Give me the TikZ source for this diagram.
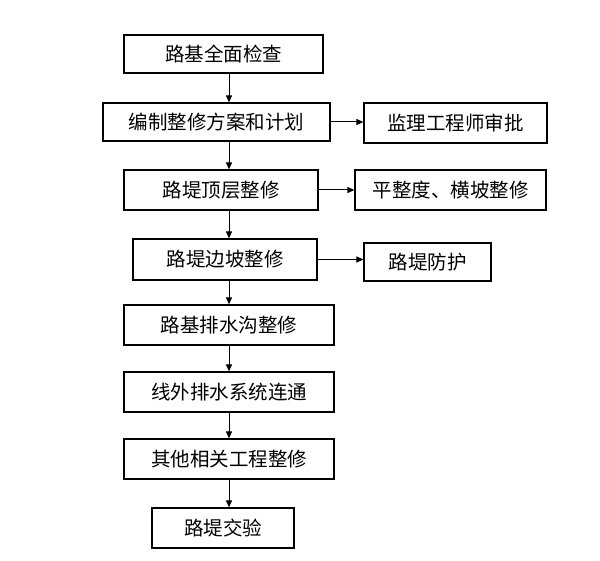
\documentclass[tikz,border=0pt]{standalone}
\usepackage{fontspec}
\setmainfont{Noto Sans CJK SC}
\usetikzlibrary{arrows.meta}
\begin{document}
\begin{tikzpicture}[x=1pt,y=-1pt,
  box/.style={draw,line width=1.2pt,inner sep=0pt,font=\fontsize{19.5}{21}\selectfont},
  arr/.style={line width=1pt,-{Triangle[length=7pt,width=6pt]}}]
\useasboundingbox (0,0) rectangle (600,561);
\newcommand{\bx}[6]{\node[box,minimum width=#4-#2,minimum height=#5-#3] (#1) at ({(#2+#4)/2},{(#3+#5)/2}) {#6};}
\bx{a}{124}{35}{323}{73}{路基全面检查}
\bx{b}{103}{103}{330}{141}{编制整修方案和计划}
\bx{br}{364}{103}{547}{143}{监理工程师审批}
\bx{c}{124}{170}{318}{210}{路堤顶层整修}
\bx{cr}{355}{170}{546}{210}{平整度、横坡整修}
\bx{d}{133}{239}{317}{280}{路堤边坡整修}
\bx{dr}{364}{243}{491}{281}{路堤防护}
\bx{e}{124}{305}{334}{345}{路基排水沟整修}
\bx{f}{124}{372}{334}{412}{线外排水系统连通}
\bx{g}{124}{439}{334}{479}{其他相关工程整修}
\bx{h}{152}{508}{294}{548}{路堤交验}
\foreach \p/\q in {a/b,b/c,c/d,d/e,e/f,f/g,g/h}
  \draw[arr] (\p.south -| 229,0) -- (\q.north -| 229,0);
\draw[arr] (b.east) -- (br.west |- b.east);
\draw[arr] (c.east) -- (cr.west |- c.east);
\draw[arr] (d.east) -- (dr.west |- d.east);
\end{tikzpicture}
\end{document}
